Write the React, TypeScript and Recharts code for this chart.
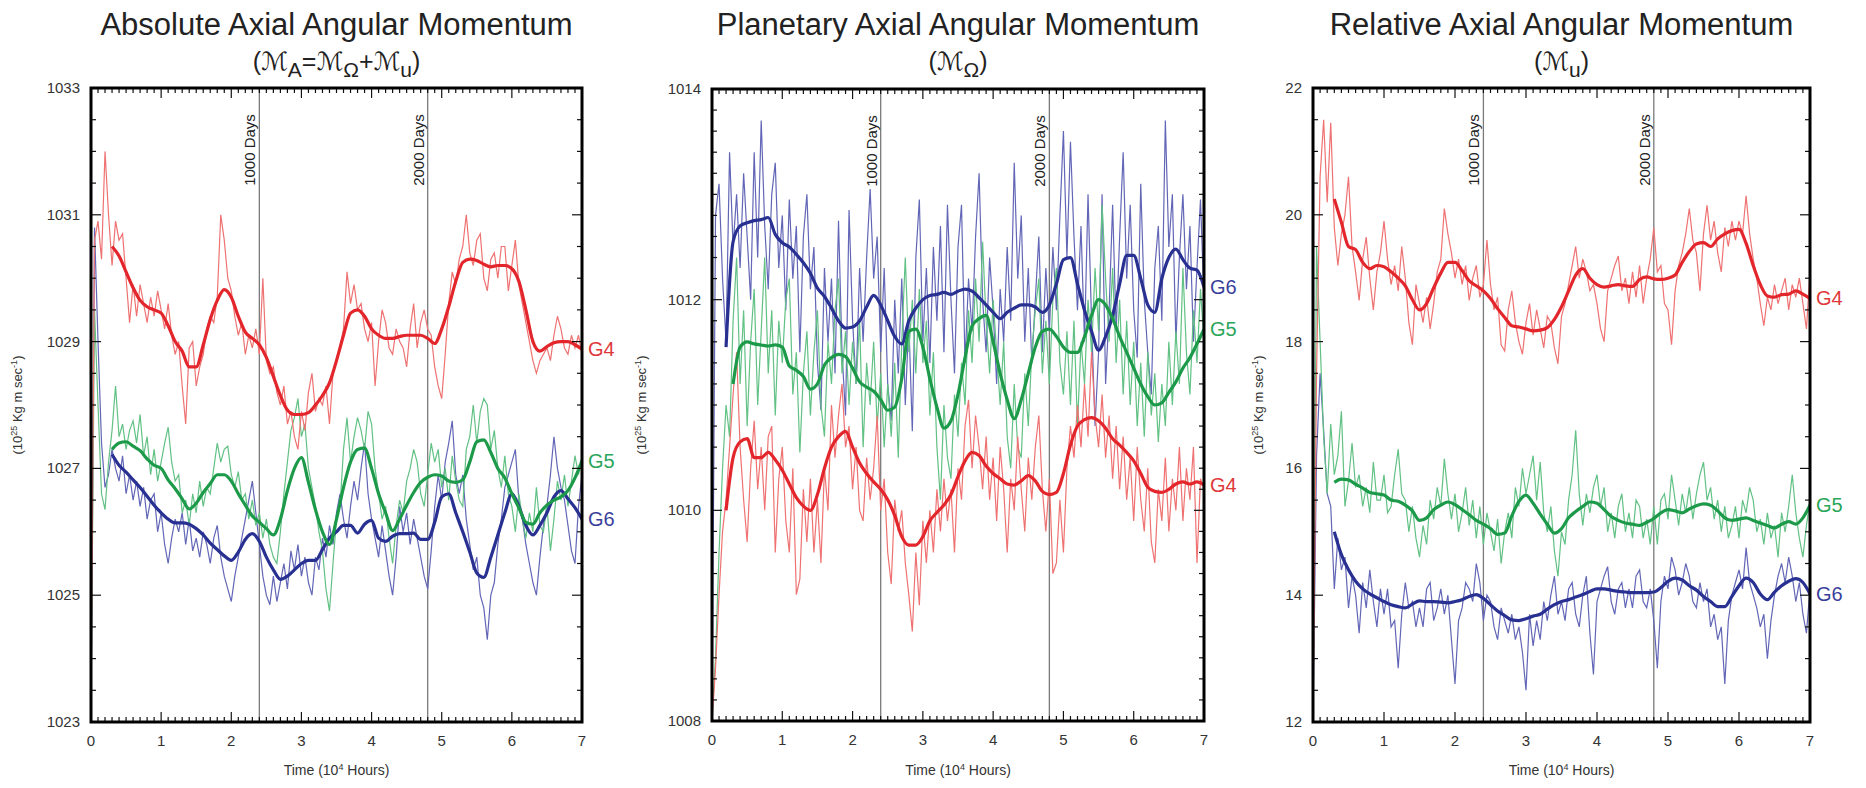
import React from 'react';
import { LineChart, Line, XAxis, YAxis, ReferenceLine, ReferenceDot } from 'recharts';

const FONT = "'Liberation Sans', Arial, Helvetica, sans-serif";

// ---------- shared axes ----------
const NOISE_TIMES = Array.from({ length: 141 }, (_, i) => i / 20);
const X_TICKS = Array.from({ length: 71 }, (_, i) => i / 10);
const DAY_MARKS = [2.4, 4.8];
const DAY_LABELS = ['1000 Days', '2000 Days'];

// ---------- Panel 1 : Absolute (M_A) ----------
const ABS_Y_TICKS = Array.from({ length: 21 }, (_, i) => 1023 + i * 0.5);
const ABS_Y_LABELS = [1023, 1025, 1027, 1029, 1031, 1033];

const ABS_G4_RAW = [
  1023.2, 1030.6, 1030.9, 1030.3, 1032.0, 1031.0, 1030.2, 1030.9, 1030.6, 1030.7, 1030.0, 1029.3, 1029.9, 1029.4, 1029.9, 1029.6, 1029.3, 1029.7, 1029.4, 1029.8,
  1029.5, 1029.2, 1029.6, 1029.1, 1028.8, 1029.0, 1028.3, 1027.7, 1028.9, 1029.0, 1028.3, 1028.6, 1028.8, 1029.2, 1029.4, 1029.3, 1029.7, 1031.0, 1030.6, 1030.0,
  1029.8, 1029.4, 1029.1, 1029.3, 1028.8, 1029.1, 1028.9, 1029.2, 1028.8, 1030.0, 1028.7, 1028.5, 1028.6, 1028.2, 1028.0, 1028.3, 1027.7, 1027.9, 1027.5, 1027.3,
  1027.9, 1027.6, 1028.2, 1028.5, 1027.9, 1028.1, 1028.0, 1028.3, 1027.7, 1028.5, 1028.7, 1028.9, 1029.2, 1030.1, 1029.6, 1029.9, 1029.5, 1029.6, 1029.2, 1029.0,
  1029.3, 1028.3, 1029.0, 1029.5, 1029.3, 1028.9, 1028.8, 1029.2, 1029.0, 1028.9, 1028.6, 1029.2, 1029.6, 1028.9, 1029.3, 1029.5, 1029.2, 1029.1, 1028.6, 1028.3,
  1028.1, 1028.8, 1029.6, 1030.1, 1029.9, 1030.3, 1030.5, 1031.0, 1030.4, 1030.2, 1030.6, 1030.7, 1030.0, 1029.8, 1030.3, 1030.4, 1030.0, 1030.5, 1030.5, 1029.8,
  1030.2, 1030.6, 1029.9, 1029.6, 1029.3, 1029.0, 1028.7, 1028.5, 1028.7, 1028.8, 1028.9, 1028.7, 1029.1, 1029.4, 1029.2, 1028.9, 1028.8, 1029.1, 1028.9, 1029.1,
  1028.8,
];
const ABS_G5_RAW = [
  1023.2, 1029.5, 1028.0, 1026.6, 1026.35, 1027.1, 1027.6, 1028.3, 1027.5, 1027.7, 1027.3, 1027.6, 1027.75, 1027.4, 1027.85, 1027.2, 1027.5, 1026.9, 1027.3, 1026.8,
  1027.1, 1027.4, 1027.65, 1027.1, 1026.8, 1026.9, 1026.3, 1026.5, 1026.1, 1026.6, 1026.3, 1026.8, 1026.4, 1026.7, 1026.6, 1027.0, 1027.4, 1027.1, 1027.3, 1027.35,
  1026.9, 1026.7, 1026.95, 1026.5, 1026.6, 1026.2, 1026.5, 1026.1, 1026.3, 1025.9, 1026.2, 1025.8, 1025.6, 1025.5, 1026.0, 1026.6, 1027.1, 1027.6, 1027.8, 1028.1,
  1027.5, 1027.7, 1027.0, 1026.7, 1026.4, 1026.0, 1025.7, 1025.1, 1024.75, 1025.5, 1026.2, 1026.4, 1027.3, 1027.8, 1027.1, 1027.5, 1027.8, 1027.6, 1027.3, 1027.9,
  1027.7, 1027.0, 1026.6, 1026.2, 1026.4, 1025.9, 1025.5, 1026.1, 1026.5, 1026.3, 1026.8, 1027.0, 1027.3, 1027.1, 1026.6, 1026.4, 1026.9, 1027.4, 1027.1, 1027.3,
  1026.7, 1027.0, 1026.5, 1027.2, 1026.8, 1026.5, 1026.4, 1027.3, 1027.5, 1028.0, 1027.4, 1027.9, 1028.1, 1028.0, 1027.3, 1027.6, 1027.0, 1026.7, 1027.2, 1026.6,
  1026.4, 1026.0, 1026.6, 1026.2, 1025.9, 1026.3, 1026.0, 1026.7, 1026.1, 1026.0, 1026.4, 1025.7, 1026.2, 1026.8, 1026.5, 1026.9, 1026.4, 1026.8, 1027.2, 1026.9,
  1027.2,
];
const ABS_G6_RAW = [
  1023.0, 1030.8, 1029.0, 1027.4, 1026.7, 1026.9, 1027.3, 1027.0, 1026.8, 1027.2, 1026.6, 1026.9, 1026.5, 1026.8, 1026.4, 1026.7, 1026.2, 1026.5, 1026.6, 1026.0,
  1026.3, 1025.8, 1025.5, 1025.9, 1026.2, 1026.0, 1026.3, 1025.8, 1026.2, 1025.7, 1025.9, 1025.6, 1026.0, 1025.8, 1025.5, 1025.9, 1026.1, 1025.6, 1025.3, 1025.1,
  1024.9, 1025.3, 1025.6, 1025.9, 1026.2, 1026.5, 1026.8, 1026.3, 1025.8, 1025.3, 1025.0, 1024.85, 1025.3, 1024.9, 1025.2, 1025.5, 1025.1, 1025.7, 1025.4, 1025.8,
  1025.3, 1025.6, 1025.2, 1025.0, 1025.6, 1025.4, 1025.9, 1025.6, 1026.1, 1025.8, 1026.3, 1026.6, 1026.2, 1025.9, 1026.4, 1026.8, 1026.5, 1027.0, 1027.4, 1026.6,
  1026.2, 1025.9, 1025.6, 1026.1, 1025.7, 1025.3, 1025.0, 1025.6, 1026.4, 1026.0, 1026.3, 1025.8, 1026.2, 1025.9, 1025.6, 1025.3, 1025.1, 1025.7, 1026.4, 1026.9,
  1026.5, 1027.1, 1027.4, 1027.75, 1026.9, 1026.6, 1026.9, 1026.2, 1025.8, 1025.4, 1025.6, 1025.0, 1024.8, 1024.3, 1025.0, 1025.2, 1025.8, 1026.2, 1026.7, 1026.9,
  1027.1, 1027.3, 1026.5, 1026.2, 1025.8, 1025.5, 1025.2, 1025.0, 1025.6, 1026.1, 1026.4, 1026.9, 1027.5, 1027.0, 1026.7, 1026.5, 1026.1, 1025.7, 1025.5, 1026.4,
  1026.9,
];
// smoothed, from t = 0.3 every 0.1
const ABS_G4_SMOOTH = [
  1030.5, 1030.35, 1030.1, 1029.85, 1029.65, 1029.55, 1029.5,
  1029.45, 1029.25, 1029.0, 1028.85, 1028.6, 1028.6, 1028.95, 1029.35, 1029.65, 1029.82,
  1029.7, 1029.4, 1029.15, 1029.05, 1028.95, 1028.75, 1028.45, 1028.15, 1027.92, 1027.85,
  1027.85, 1027.88, 1028.0, 1028.15, 1028.35, 1028.7, 1029.1, 1029.45, 1029.5, 1029.4,
  1029.2, 1029.1, 1029.05, 1029.05, 1029.08, 1029.1, 1029.1, 1029.1, 1029.05, 1028.97,
  1029.2, 1029.55, 1029.95, 1030.25, 1030.3, 1030.28, 1030.22, 1030.18, 1030.2, 1030.2,
  1030.15, 1029.95, 1029.5, 1029.0, 1028.85, 1028.92, 1028.98, 1029.0, 1029.0, 1028.95,
  1028.88,
];
const ABS_G5_SMOOTH = [
  1027.3, 1027.4, 1027.42, 1027.35, 1027.28, 1027.15, 1027.05,
  1027.0, 1026.82, 1026.68, 1026.52, 1026.36, 1026.45, 1026.62, 1026.76, 1026.9, 1026.9,
  1026.8, 1026.6, 1026.42, 1026.25, 1026.15, 1026.05, 1025.95, 1026.2, 1026.65, 1027.0,
  1027.17, 1026.78, 1026.35, 1026.0, 1025.8, 1026.2, 1026.7, 1027.1, 1027.3, 1027.32,
  1027.0, 1026.6, 1026.3, 1026.02, 1026.2, 1026.42, 1026.62, 1026.78, 1026.86, 1026.9,
  1026.88, 1026.8, 1026.78, 1026.82, 1027.1, 1027.42, 1027.45, 1027.25, 1027.0, 1026.85,
  1026.6, 1026.38, 1026.15, 1026.12, 1026.3, 1026.42, 1026.5, 1026.55, 1026.65, 1026.85,
  1027.12,
];
const ABS_G6_SMOOTH = [
  1027.22, 1027.05, 1026.94, 1026.82, 1026.7, 1026.56, 1026.42,
  1026.3, 1026.2, 1026.14, 1026.14, 1026.12, 1026.05, 1025.95, 1025.82, 1025.72, 1025.62,
  1025.55, 1025.68, 1025.88, 1025.97, 1025.85, 1025.6, 1025.4, 1025.25, 1025.3, 1025.4,
  1025.5, 1025.55, 1025.55, 1025.72, 1025.9, 1026.0, 1026.1, 1026.1, 1025.98, 1026.12,
  1026.18, 1025.9, 1025.85, 1025.93, 1025.97, 1025.97, 1025.98, 1025.88, 1025.88, 1026.15,
  1026.55, 1026.6, 1026.3, 1026.0, 1025.68, 1025.35, 1025.28, 1025.6, 1025.95, 1026.3,
  1026.6, 1026.4, 1026.1, 1025.95, 1026.1, 1026.3, 1026.55, 1026.65, 1026.52, 1026.38,
  1026.2,
];

// ---------- Panel 2 : Planetary (M_Omega) ----------
const PLA_Y_TICKS = Array.from({ length: 31 }, (_, i) => Math.round((1008 + i * 0.2) * 10) / 10);
const PLA_Y_LABELS = [1008, 1010, 1012, 1014];

const PLA_G4_RAW = [
  1008.0, 1008.5, 1009.2, 1009.8, 1010.1, 1010.6, 1011.1, 1011.5, 1010.6, 1010.1, 1009.7, 1010.4, 1010.85, 1010.2, 1010.6, 1010.0, 1010.7, 1010.8, 1009.6, 1010.3,
  1010.6, 1009.9, 1009.6, 1010.4, 1009.2, 1009.35, 1010.2, 1009.7, 1010.3, 1009.6, 1010.1, 1009.5, 1010.4, 1010.0, 1011.0, 1010.5, 1010.9, 1011.2, 1010.6, 1010.8,
  1010.2, 1010.6, 1010.0, 1009.9, 1010.5, 1010.1, 1010.4, 1010.9, 1010.0, 1010.3, 1009.6, 1009.3, 1010.1, 1009.8, 1010.0, 1009.5, 1009.2, 1008.85, 1009.6, 1009.1,
  1009.9, 1009.5, 1010.0, 1009.6, 1010.2, 1009.8, 1010.3, 1009.9, 1010.2, 1009.6, 1010.4, 1010.1, 1010.8, 1011.05, 1010.4, 1010.9, 1010.6, 1010.2, 1010.7, 1010.1,
  1010.5, 1009.9, 1010.6, 1010.2, 1009.6, 1010.3, 1010.0, 1010.7, 1010.2, 1009.8, 1010.5, 1010.1, 1010.6, 1010.9, 1010.2, 1009.8, 1010.3, 1009.4, 1009.5, 1010.1,
  1009.6, 1010.4, 1010.8, 1010.5, 1011.0, 1010.6, 1011.2, 1010.7, 1011.5, 1010.9, 1010.6, 1011.1, 1010.5, 1010.9, 1010.3, 1010.8, 1010.2, 1010.7, 1010.1, 1010.5,
  1009.9, 1010.6, 1010.1, 1009.8, 1010.4, 1009.7, 1009.5, 1010.2, 1009.9, 1010.5, 1009.8, 1010.3, 1010.0, 1010.6, 1009.9, 1010.4, 1010.1, 1010.6, 1009.5, 1010.3,
  1010.2,
];
const PLA_G5_RAW = [
  1008.0, 1008.6, 1009.6, 1010.4, 1011.0, 1010.7, 1011.8, 1012.4, 1011.2, 1011.9, 1010.8, 1011.6, 1012.1, 1011.0, 1011.7, 1012.4, 1011.3, 1011.9, 1010.9, 1011.8,
  1011.4, 1012.0, 1012.2, 1011.1, 1011.5, 1010.55, 1011.3, 1011.7, 1010.9, 1011.5, 1011.9, 1011.0, 1010.7, 1011.6, 1011.2, 1011.9, 1012.2, 1011.3, 1011.7, 1011.0,
  1011.6, 1011.2, 1011.8, 1010.6, 1011.4, 1011.0, 1011.6, 1010.8, 1011.3, 1010.6, 1011.2, 1010.7, 1011.4, 1010.5, 1011.6, 1012.4, 1011.5, 1012.0, 1011.3, 1012.1,
  1011.4, 1011.8, 1010.9, 1011.5, 1010.6, 1010.1, 1011.0, 1010.5, 1010.3, 1011.1, 1010.7, 1011.4, 1011.0, 1011.9, 1011.4, 1012.2, 1011.6, 1012.55, 1011.8, 1011.3,
  1012.0, 1011.5, 1011.0, 1011.6, 1010.7, 1010.4, 1011.2, 1010.6, 1010.5, 1011.3, 1010.8, 1011.5, 1011.9, 1012.2, 1011.3, 1011.8, 1011.2, 1012.0, 1012.3, 1011.4,
  1011.1, 1011.7, 1011.0, 1011.8, 1010.8, 1011.6, 1011.2, 1012.0, 1011.5, 1012.3, 1011.7, 1012.9, 1012.2, 1011.6, 1012.3, 1011.4, 1012.0, 1011.1, 1011.8, 1011.0,
  1011.6, 1010.8, 1011.4, 1010.7, 1011.5, 1010.9, 1011.3, 1010.65, 1011.2, 1010.8, 1011.6, 1011.0, 1011.7, 1011.2, 1012.3, 1011.5, 1011.1, 1011.9, 1011.4, 1012.1,
  1011.6,
];
const PLA_G6_RAW = [
  1008.0, 1012.8, 1013.1, 1012.2, 1011.6, 1013.4, 1012.5, 1013.0, 1012.3, 1013.2, 1012.6, 1012.0, 1013.4, 1012.4, 1013.7, 1012.7, 1012.1, 1013.0, 1013.3, 1012.3,
  1012.8, 1011.9, 1012.95, 1012.2, 1012.7, 1011.5, 1012.6, 1013.0, 1012.1, 1012.5, 1011.4, 1010.95, 1012.3, 1011.6, 1012.2, 1011.3, 1012.75, 1011.5, 1010.9, 1012.85,
  1011.8, 1011.2, 1012.3, 1011.6, 1012.4, 1013.05, 1012.2, 1012.6, 1011.5, 1012.3, 1011.2, 1010.85, 1012.0, 1011.3, 1012.2, 1011.0, 1011.8, 1010.75, 1012.4, 1012.95,
  1011.6, 1012.3, 1011.4, 1012.5, 1011.8, 1012.7, 1011.5, 1012.9, 1012.0, 1011.3, 1012.5, 1012.9, 1011.4, 1012.2, 1011.7, 1012.6, 1013.2, 1012.0, 1011.5, 1012.4,
  1011.9, 1011.2, 1012.1, 1011.6, 1012.5, 1011.8, 1013.3, 1012.2, 1012.8, 1011.6, 1012.3, 1011.4, 1012.0, 1012.6, 1011.5, 1012.3, 1011.7, 1012.5, 1011.9, 1012.8,
  1013.6, 1012.4, 1013.5, 1012.6, 1011.9, 1012.7, 1011.6, 1013.0, 1011.8, 1010.8, 1011.5, 1013.0, 1011.2, 1011.9, 1012.9, 1011.7, 1012.6, 1013.4, 1012.2, 1012.9,
  1011.9, 1011.45, 1013.1, 1012.0, 1011.5, 1011.1, 1012.3, 1012.7, 1011.8, 1013.7, 1012.5, 1013.0, 1011.6, 1012.4, 1013.0, 1012.1, 1012.7, 1011.6, 1012.3, 1012.95,
  1012.0,
];
// smoothed: G4 and G6 from t = 0.2, G5 from t = 0.3, every 0.1
const PLA_G4_SMOOTH = [
  1010.0, 1010.5, 1010.65, 1010.68, 1010.5, 1010.5, 1010.55, 1010.48,
  1010.38, 1010.25, 1010.12, 1010.04, 1010.0, 1010.15, 1010.4, 1010.6, 1010.7, 1010.75,
  1010.6, 1010.45, 1010.35, 1010.27, 1010.2, 1010.1, 1009.95, 1009.75, 1009.67, 1009.67,
  1009.75, 1009.9, 1009.98, 1010.05, 1010.15, 1010.32, 1010.47, 1010.55, 1010.52, 1010.42,
  1010.35, 1010.3, 1010.25, 1010.24, 1010.28, 1010.33, 1010.28, 1010.18, 1010.15, 1010.17,
  1010.35, 1010.62, 1010.8, 1010.86, 1010.88, 1010.85, 1010.78, 1010.68, 1010.62, 1010.55,
  1010.47, 1010.35, 1010.22, 1010.18, 1010.17, 1010.2, 1010.25, 1010.27, 1010.25, 1010.27,
  1010.24,
];
const PLA_G5_SMOOTH = [
  1011.2, 1011.55, 1011.6, 1011.58, 1011.57, 1011.56, 1011.57,
  1011.55, 1011.37, 1011.33, 1011.27, 1011.15, 1011.2, 1011.38, 1011.45, 1011.48, 1011.46,
  1011.35, 1011.22, 1011.17, 1011.13, 1011.05, 1010.95, 1010.98, 1011.25, 1011.7, 1011.72,
  1011.55, 1011.25, 1010.98, 1010.78, 1010.85, 1011.1, 1011.45, 1011.75, 1011.82, 1011.85,
  1011.6, 1011.3, 1011.05, 1010.87, 1011.05, 1011.3, 1011.55, 1011.7, 1011.72, 1011.65,
  1011.55, 1011.5, 1011.5, 1011.65, 1011.85, 1012.0, 1011.95, 1011.82, 1011.65, 1011.5,
  1011.35, 1011.2, 1011.08, 1011.0, 1011.02, 1011.12, 1011.22, 1011.35, 1011.45, 1011.58,
  1011.72,
];
const PLA_G6_SMOOTH = [
  1011.55, 1012.55, 1012.7, 1012.73, 1012.75, 1012.76, 1012.78, 1012.62,
  1012.54, 1012.5, 1012.43, 1012.35, 1012.25, 1012.11, 1012.03, 1011.92, 1011.8, 1011.73,
  1011.74, 1011.8, 1011.93, 1012.04, 1011.95, 1011.8, 1011.65, 1011.58, 1011.8, 1011.92,
  1012.0, 1012.04, 1012.05, 1012.07, 1012.05, 1012.08, 1012.1, 1012.08, 1012.02, 1011.95,
  1011.88, 1011.82, 1011.88, 1011.92, 1011.95, 1011.95, 1011.93, 1011.88, 1011.95, 1012.15,
  1012.38, 1012.4, 1012.15, 1011.9, 1011.7, 1011.52, 1011.65, 1011.85, 1012.15, 1012.42,
  1012.42, 1012.2, 1011.95, 1011.88, 1012.2, 1012.4, 1012.48, 1012.38, 1012.3, 1012.28,
  1012.12,
];

// ---------- Panel 3 : Relative (M_u) ----------
const REL_Y_TICKS = Array.from({ length: 21 }, (_, i) => 12 + i * 0.5);
const REL_Y_LABELS = [12, 14, 16, 18, 20, 22];

const REL_G4_RAW = [
  12.0, 17.5, 20.6, 21.5, 20.2, 21.45, 19.8, 19.2, 19.7, 20.0, 20.6, 19.5, 19.1, 18.65, 19.3, 19.65, 19.0, 18.5, 19.1, 19.4,
  19.9, 19.3, 18.9, 19.2, 18.8, 19.5, 19.0, 18.3, 17.95, 18.9, 18.6, 18.3, 18.7, 18.2, 18.6, 19.1, 19.3, 20.1, 19.7, 19.4,
  19.0, 19.3, 18.9, 19.2, 18.65, 19.0, 19.2, 18.7, 18.9, 19.6, 18.9, 18.5, 18.7, 17.95, 17.85, 18.5, 18.8, 18.3, 18.0, 17.8,
  18.3, 18.6, 18.1, 18.5, 18.2, 17.9, 18.4, 18.3, 17.9, 17.65, 18.4, 18.6, 18.9, 19.2, 19.5, 19.0, 19.3, 19.1, 18.8, 18.9,
  18.6, 18.2, 18.0, 18.8, 19.0, 19.2, 19.35, 18.8, 19.0, 18.6, 19.1, 18.7, 19.2, 18.6, 19.0, 19.3, 19.8, 19.1, 19.2, 18.6,
  18.5, 17.95, 18.8, 19.2, 19.4, 19.7, 20.1, 19.6, 19.4, 18.8, 19.7, 20.15, 19.6, 19.9, 19.4, 19.1, 19.8, 19.5, 19.9, 19.6,
  19.9, 19.7, 20.3, 19.7, 19.3, 19.0, 18.6, 18.25, 18.7, 18.5, 18.9, 18.6, 18.8, 19.0, 18.5, 18.9, 18.7, 19.0, 18.6, 18.2,
  19.1,
];
const REL_G5_RAW = [
  12.0, 19.5, 18.0, 16.5, 15.6, 16.7, 15.9, 16.2, 16.9, 15.4, 15.8, 16.4, 15.7, 15.9, 15.4, 15.7, 15.3, 16.1, 15.5, 15.5,
  15.9, 15.3, 15.4, 15.9, 16.3, 15.6, 15.5, 15.0, 15.4, 14.9, 14.6, 15.1, 14.8, 15.5, 15.2, 15.7, 15.4, 16.15, 15.6, 15.2,
  15.6, 15.0, 15.3, 15.7, 15.1, 15.5, 14.9, 15.4, 14.8, 15.3, 15.0, 14.7, 15.2, 14.5, 15.0, 15.3, 14.9, 15.7, 15.4, 16.0,
  15.6, 15.9, 16.2, 15.5, 16.1, 15.3, 15.0, 15.4, 14.7, 14.3, 15.0, 14.8, 15.5, 15.9, 16.6, 15.6, 15.1, 15.6, 15.3, 15.7,
  15.9, 15.4, 15.7, 15.0, 15.3, 14.9, 15.4, 15.6, 15.0, 15.3, 14.9, 15.5, 15.4, 14.9, 15.2, 14.8, 15.4, 14.8, 15.5, 15.6,
  15.2, 15.9, 15.5, 15.1, 15.6, 15.3, 15.7, 15.2, 15.6, 15.9, 16.1, 15.5, 15.7, 15.2, 15.5, 15.0, 15.4, 14.9, 15.1, 15.4,
  14.9, 15.5, 15.3, 15.7, 15.5, 15.0, 15.2, 14.8, 15.3, 14.9, 15.1, 14.6, 15.3, 15.0, 15.4, 15.9, 15.3, 14.9, 14.6, 15.1,
  15.5,
];
const REL_G6_RAW = [
  12.0, 16.2, 17.5, 16.6, 15.6, 15.4, 14.1, 14.9, 14.4, 14.6, 13.8, 14.3, 14.0, 13.4, 14.2, 13.8, 14.4, 13.9, 13.5, 14.1,
  13.7, 14.1, 13.5, 13.6, 12.85, 13.7, 14.2, 13.8, 13.9, 13.5, 13.8, 13.5, 14.1, 14.2, 13.6, 13.8, 14.1, 13.7, 14.0, 13.3,
  12.6, 13.6, 13.8, 14.2, 14.1, 13.9, 14.5, 14.2, 13.6, 14.0, 13.9, 13.5, 13.3, 13.8, 13.6, 13.4, 13.7, 13.3, 13.5, 13.1,
  12.5, 13.7, 13.2, 13.6, 13.3, 13.9, 13.6, 14.0, 14.3, 13.7, 13.9, 13.6, 14.1, 14.2, 13.7, 13.5, 14.0, 14.3, 13.4, 12.75,
  13.9, 14.1, 14.3, 14.45, 13.9, 13.7, 14.1, 14.2, 13.8, 14.1, 13.8, 14.3, 14.4, 13.9, 13.8, 14.1, 13.6, 12.85, 13.9, 14.3,
  14.1, 14.6, 14.4, 14.0, 14.2, 14.5, 14.3, 13.9, 13.8, 14.2, 13.9, 14.1, 13.5, 13.7, 13.3, 13.5, 12.6, 13.6, 14.0, 14.2,
  14.4, 14.1, 14.75, 14.2, 14.0, 13.8, 13.5, 13.7, 13.0, 13.6, 14.0, 14.3, 14.5, 14.2, 14.6, 14.3, 13.9, 14.2, 13.7, 13.4,
  14.1,
];
// smoothed, from t = 0.3 every 0.1
const REL_G4_SMOOTH = [
  20.25, 19.88, 19.5, 19.45, 19.25, 19.15, 19.2,
  19.18, 19.1, 19.0, 18.88, 18.66, 18.5, 18.6, 18.85, 19.08, 19.25,
  19.25, 19.12, 18.96, 18.88, 18.8, 18.68, 18.52, 18.38, 18.25, 18.23,
  18.2, 18.17, 18.18, 18.22, 18.35, 18.55, 18.8, 19.05, 19.15, 19.0,
  18.9, 18.86, 18.88, 18.9, 18.88, 18.87, 18.98, 19.02, 18.99, 18.98,
  19.0, 19.05, 19.25, 19.42, 19.54, 19.56, 19.5, 19.62, 19.7, 19.75,
  19.77, 19.55, 19.2, 18.9, 18.72, 18.7, 18.74, 18.75, 18.8, 18.75,
  18.68,
];
const REL_G5_SMOOTH = [
  15.78, 15.83, 15.82, 15.75, 15.69, 15.62, 15.6,
  15.58, 15.5, 15.48, 15.42, 15.33, 15.18, 15.22, 15.35, 15.42, 15.47,
  15.43, 15.35, 15.27, 15.18, 15.12, 15.05, 14.96, 14.98, 15.25, 15.48,
  15.58, 15.45, 15.28, 15.12, 14.98, 15.05, 15.22, 15.32, 15.4, 15.47,
  15.45, 15.35, 15.24, 15.18, 15.14, 15.12, 15.1, 15.15, 15.21, 15.3,
  15.35, 15.33, 15.3, 15.36, 15.41, 15.44, 15.42, 15.33, 15.22, 15.18,
  15.2, 15.22, 15.18, 15.14, 15.1, 15.06, 15.12, 15.16, 15.12, 15.22,
  15.42,
];
const REL_G6_SMOOTH = [
  15.0, 14.64, 14.4, 14.22, 14.1, 14.02, 13.96,
  13.9, 13.85, 13.82, 13.8, 13.86, 13.91, 13.9, 13.9, 13.89, 13.88,
  13.9, 13.93, 13.98, 14.01, 13.95, 13.85, 13.75, 13.68, 13.61, 13.6,
  13.63, 13.67, 13.7, 13.78, 13.85, 13.9, 13.93, 13.97, 14.01, 14.06,
  14.1, 14.1, 14.08, 14.06, 14.05, 14.04, 14.04, 14.04, 14.05, 14.12,
  14.22, 14.27, 14.24, 14.15, 14.08, 13.98, 13.9, 13.82, 13.82, 13.98,
  14.15, 14.27, 14.2, 14.02, 13.93, 14.05, 14.15, 14.22, 14.26, 14.2,
  14.02,
];

// ---------- styling ----------
const COLORS = {
  G4: { thick: '#E2262B', thin: '#EF7272', text: '#E0383A' },
  G5: { thick: '#1C9A4A', thin: '#62C184', text: '#2AA55A' },
  G6: { thick: '#283191', thin: '#6266B6', text: '#3A3F9C' },
};

const AXIS_PX = 1; // axes must have a non-zero size to be drawn

const noiseRows = (vals: number[]) => vals.map((v, i) => ({ t: NOISE_TIMES[i], v }));
const smoothRows = (vals: number[], t0: number) =>
  vals.map((v, i) => ({ t: Math.round(t0 * 10 + i) / 10, v }));

type Series = { name: 'G4' | 'G5' | 'G6'; raw: number[]; smooth: number[]; start: number };

const XTick = (props: any) => {
  const { x, payload, top, bottom } = props;
  const v = payload.value;
  const major = Math.abs(v - Math.round(v)) < 1e-6;
  const len = major ? 10 : 5;
  return (
    <g>
      <line x1={x} x2={x} y1={bottom} y2={bottom - len} stroke="#111" strokeWidth={1.2} />
      <line x1={x} x2={x} y1={top} y2={top + len} stroke="#111" strokeWidth={1.2} />
      {major && (
        <text x={x} y={bottom + 24} textAnchor="middle" fontSize={15} fontFamily={FONT} fill="#333">
          {Math.round(v)}
        </text>
      )}
    </g>
  );
};

const YTick = (props: any) => {
  const { y, payload, left, right, labels } = props;
  const v = payload.value;
  const major = labels.some((l: number) => Math.abs(l - v) < 1e-6);
  const len = major ? 10 : 5;
  return (
    <g>
      <line x1={left} x2={left + len} y1={y} y2={y} stroke="#111" strokeWidth={1.2} />
      <line x1={right} x2={right - len} y1={y} y2={y} stroke="#111" strokeWidth={1.2} />
      {major && (
        <text x={left - 11} y={y + 5} textAnchor="end" fontSize={15} fontFamily={FONT} fill="#333">
          {v}
        </text>
      )}
    </g>
  );
};

const DaysLabel = (props: any) => {
  const { viewBox, text, top } = props;
  const x = viewBox ? viewBox.x : 0;
  return (
    <text
      transform={`translate(${x - 4},${top + 62}) rotate(-90)`}
      textAnchor="middle"
      fontSize={15}
      fontFamily={FONT}
      fill="#222"
    >
      {text}
    </text>
  );
};

const EndLabel = (props: any) => {
  const { viewBox, text, color } = props;
  const x = viewBox ? viewBox.x : 0;
  const y = viewBox ? viewBox.y : 0;
  return (
    <text x={x + 6} y={y + 7} fontSize={20} fontFamily={FONT} fill={color}>
      {text}
    </text>
  );
};

type PanelCfg = {
  left: number;
  width: number;
  plot: { top: number; right: number; bottom: number; left: number };
  yDomain: [number, number];
  yTicks: number[];
  yLabels: number[];
  series: Series[];
};

function Panel({ cfg }: { cfg: PanelCfg }) {
  const { left, width, plot, yDomain, yTicks, yLabels, series } = cfg;
  const margin = {
    top: plot.top,
    right: plot.right,
    bottom: plot.bottom - AXIS_PX,
    left: plot.left - AXIS_PX,
  };
  const top = plot.top;
  const bottom = 788 - plot.bottom;
  const plotL = plot.left;
  const plotR = width - plot.right;
  return (
    <div style={{ position: 'absolute', left, top: 0, width, height: 788 }}>
      <LineChart width={width} height={788} margin={margin}>
        <XAxis
          dataKey="t"
          type="number"
          domain={[0, 7]}
          ticks={X_TICKS}
          interval={0}
          height={AXIS_PX}
          axisLine={false}
          tickLine={false}
          allowDataOverflow
          tick={(p: any) => <XTick {...p} top={top} bottom={bottom} />}
        />
        <YAxis
          type="number"
          domain={yDomain}
          ticks={yTicks}
          interval={0}
          width={AXIS_PX}
          axisLine={false}
          tickLine={false}
          allowDataOverflow
          tick={(p: any) => <YTick {...p} left={plotL} right={plotR} labels={yLabels} />}
        />
        {DAY_MARKS.map((d, i) => (
          <ReferenceLine
            key={`day${d}`}
            x={d}
            stroke="#7a7a7a"
            strokeWidth={1.3}
            label={<DaysLabel text={DAY_LABELS[i]} top={top} />}
          />
        ))}
        {series.map((s) => (
          <Line
            key={`${s.name}raw`}
            data={noiseRows(s.raw)}
            dataKey="v"
            type="linear"
            stroke={COLORS[s.name].thin}
            strokeWidth={1.2}
            dot={false}
            activeDot={false}
            isAnimationActive={false}
          />
        ))}
        {series.map((s) => (
          <Line
            key={`${s.name}smooth`}
            data={smoothRows(s.smooth, s.start)}
            dataKey="v"
            type="monotone"
            stroke={COLORS[s.name].thick}
            strokeWidth={3.2}
            strokeLinejoin="round"
            dot={false}
            activeDot={false}
            isAnimationActive={false}
          />
        ))}
        {series.map((s) => (
          <ReferenceDot
            key={`${s.name}lab`}
            x={7}
            y={s.smooth[s.smooth.length - 1]}
            r={0}
            fill="none"
            stroke="none"
            ifOverflow="visible"
            label={<EndLabel text={s.name} color={COLORS[s.name].text} />}
          />
        ))}
      </LineChart>
    </div>
  );
}

const PANELS: PanelCfg[] = [
  {
    left: 0,
    width: 620,
    plot: { top: 88, right: 38, bottom: 66, left: 91 },
    yDomain: [1023, 1033],
    yTicks: ABS_Y_TICKS,
    yLabels: ABS_Y_LABELS,
    series: [
      { name: 'G6', raw: ABS_G6_RAW, smooth: ABS_G6_SMOOTH, start: 0.3 },
      { name: 'G5', raw: ABS_G5_RAW, smooth: ABS_G5_SMOOTH, start: 0.3 },
      { name: 'G4', raw: ABS_G4_RAW, smooth: ABS_G4_SMOOTH, start: 0.3 },
    ],
  },
  {
    left: 620,
    width: 620,
    plot: { top: 89, right: 36, bottom: 67, left: 92 },
    yDomain: [1008, 1014],
    yTicks: PLA_Y_TICKS,
    yLabels: PLA_Y_LABELS,
    series: [
      { name: 'G6', raw: PLA_G6_RAW, smooth: PLA_G6_SMOOTH, start: 0.2 },
      { name: 'G5', raw: PLA_G5_RAW, smooth: PLA_G5_SMOOTH, start: 0.3 },
      { name: 'G4', raw: PLA_G4_RAW, smooth: PLA_G4_SMOOTH, start: 0.2 },
    ],
  },
  {
    left: 1240,
    width: 626,
    plot: { top: 88, right: 56, bottom: 66, left: 73 },
    yDomain: [12, 22],
    yTicks: REL_Y_TICKS,
    yLabels: REL_Y_LABELS,
    series: [
      { name: 'G6', raw: REL_G6_RAW, smooth: REL_G6_SMOOTH, start: 0.3 },
      { name: 'G5', raw: REL_G5_RAW, smooth: REL_G5_SMOOTH, start: 0.3 },
      { name: 'G4', raw: REL_G4_RAW, smooth: REL_G4_SMOOTH, start: 0.3 },
    ],
  },
];

const TITLES = [
  'Absolute Axial Angular Momentum',
  'Planetary Axial Angular Momentum',
  'Relative Axial Angular Momentum',
];

const SCRIPT = "'DejaVu Serif', 'DejaVu Sans', serif";

const Sub = ({ children }: { children: React.ReactNode }) => (
  <tspan dy={7} fontSize={21} fontFamily={FONT}>
    {children}
  </tspan>
);

function Subtitle({ idx, x }: { idx: number; x: number }) {
  if (idx === 0) {
    return (
      <text x={x} y={70} textAnchor="middle" fontSize={25} fontFamily={FONT} fill="#222">
        (<tspan fontFamily={SCRIPT} fontStyle="italic">ℳ</tspan>
        <Sub>A</Sub>
        <tspan dy={-7}>=</tspan>
        <tspan fontFamily={SCRIPT} fontStyle="italic">ℳ</tspan>
        <Sub>Ω</Sub>
        <tspan dy={-7}>+</tspan>
        <tspan fontFamily={SCRIPT} fontStyle="italic">ℳ</tspan>
        <Sub>u</Sub>
        <tspan dy={-7}>)</tspan>
      </text>
    );
  }
  return (
    <text x={x} y={70} textAnchor="middle" fontSize={25} fontFamily={FONT} fill="#222">
      (<tspan fontFamily={SCRIPT} fontStyle="italic">ℳ</tspan>
      <Sub>{idx === 1 ? 'Ω' : 'u'}</Sub>
      <tspan dy={-7}>)</tspan>
    </text>
  );
}

function Overlay() {
  const frames = PANELS.map((p) => ({
    x: p.left + p.plot.left,
    y: p.plot.top,
    w: p.width - p.plot.left - p.plot.right,
    h: 788 - p.plot.top - p.plot.bottom,
  }));
  const yLabelX = [22, 646, 1263];
  return (
    <svg
      width={1866}
      height={788}
      style={{ position: 'absolute', left: 0, top: 0, pointerEvents: 'none' }}
    >
      {frames.map((f, i) => (
        <g key={i}>
          <rect x={f.x} y={f.y} width={f.w} height={f.h} fill="none" stroke="#000" strokeWidth={3} />
          <text x={f.x + f.w / 2} y={35} textAnchor="middle" fontSize={31} fontFamily={FONT} fill="#222">
            {TITLES[i]}
          </text>
          <Subtitle idx={i} x={f.x + f.w / 2} />
          <text x={f.x + f.w / 2} y={775} textAnchor="middle" fontSize={14} fontFamily={FONT} fill="#333">
            Time (10<tspan dy={-5} fontSize={9}>4</tspan>
            <tspan dy={5}> Hours)</tspan>
          </text>
          <text
            transform={`translate(${yLabelX[i]},${f.y + f.h / 2}) rotate(-90)`}
            textAnchor="middle"
            fontSize={13}
            fontFamily={FONT}
            fill="#333"
          >
            (10<tspan dy={-5} fontSize={9}>25</tspan>
            <tspan dy={5}> Kg m sec</tspan>
            <tspan dy={-5} fontSize={9}>-1</tspan>
            <tspan dy={5}>)</tspan>
          </text>
        </g>
      ))}
    </svg>
  );
}

export default function App() {
  return (
    <div style={{ position: 'absolute', left: 0, top: 0, width: 1866, height: 788, background: '#fff' }}>
      {PANELS.map((p, i) => (
        <Panel key={i} cfg={p} />
      ))}
      <Overlay />
    </div>
  );
}
